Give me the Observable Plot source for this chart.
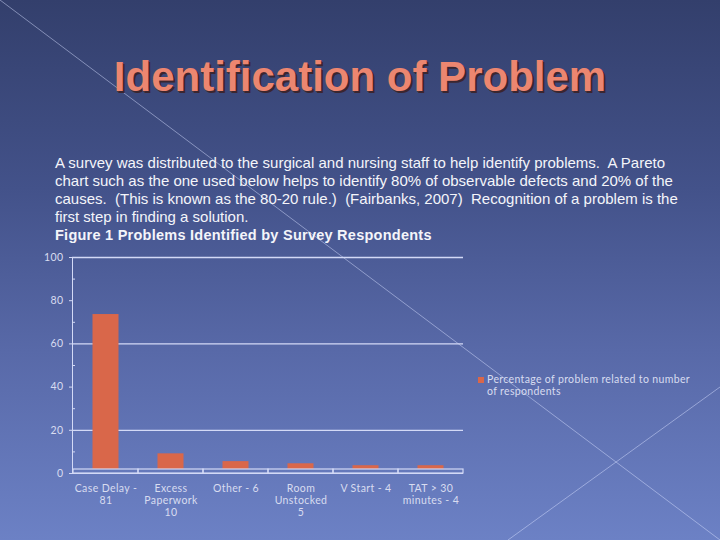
<!DOCTYPE html>
<html>
<head>
<meta charset="utf-8">
<script src="https://cdn.jsdelivr.net/npm/d3@7"></script>
<script src="https://cdn.jsdelivr.net/npm/@observablehq/plot@0.6"></script>
<style>
  html, body { margin: 0; padding: 0; }
  #slide { position: relative; width: 720px; height: 540px; overflow: hidden;
    background: linear-gradient(to bottom, #333f6c 0%, #43528a 35%, #5869a8 65%, #6c81c5 100%); }
  #deco { position: absolute; left: 0; top: 0; }
  #title { position: absolute; left: 0; top: 56px; width: 720px; text-align: center;
    font-family: "Liberation Sans", Arial, sans-serif; font-weight: bold; font-size: 42px; line-height: 42px;
    color: #ec8670; text-shadow: 2px 2px 0 #3a2630, 1px 1px 0 #5a3035; margin: 0; }
  #body { position: absolute; left: 55px; top: 154px; width: 660px;
    font-family: "Liberation Sans", Arial, sans-serif; font-size: 15px; line-height: 18px; color: #f4f5fa;
    white-space: pre; }
  #body b { font-weight: bold; font-size: 14.5px; letter-spacing: 0.25px; }
  #chart { position: absolute; left: 0; top: 240px; }
  #legend { position: absolute; left: 478px; top: 373px; font-family: Lato, "Open Sans", sans-serif;
    font-size: 10.5px; line-height: 12px; color: #d8dcf0; letter-spacing: 0.35px; }
  #legend .sw { position: absolute; left: 0; top: 4px; width: 6px; height: 6px; background: #d9674a; }
  #legend .tx { position: absolute; left: 9px; top: 0; white-space: pre; }
</style>
</head>
<body>
<div id="slide">
  <svg id="deco" width="720" height="540">
    <line x1="0" y1="0" x2="720" y2="540" stroke="rgba(215,222,255,0.55)" stroke-width="0.9"/>
    <line x1="508" y1="540" x2="720" y2="387" stroke="rgba(215,222,255,0.55)" stroke-width="0.9"/>
  </svg>
  <div id="title">Identification of Problem</div>
  <div id="body">A survey was distributed to the surgical and nursing staff to help identify problems.  A Pareto
chart such as the one used below helps to identify 80% of observable defects and 20% of the
causes.  (This is known as the 80-20 rule.)  (Fairbanks, 2007)  Recognition of a problem is the
first step in finding a solution.
<b>Figure 1 Problems Identified by Survey Respondents</b></div>
  <div id="chart"></div>
  <div id="legend"><div class="sw"></div><div class="tx" id="legendText"></div></div>
</div>
<script>
// Data
const categories = ["Case Delay -\n81", "Excess\nPaperwork\n10", "Other - 6", "Room\nUnstocked\n5", "V Start - 4", "TAT > 30\nminutes - 4"];
const percentages = [73.6, 9.1, 5.5, 4.5, 3.6, 3.6];
const yTicks = [0, 20, 40, 60, 80, 100];
const gridValues = [20, 60, 100];
const minorTicks = [10, 30, 50, 70, 90];
const seriesName = "Percentage of problem related to number\nof respondents";

const data = categories.map((c, i) => ({category: c, value: percentages[i]}));
const barColor = "#d9674a";
const lineColor = "#d3d9f6";

document.getElementById("legendText").textContent = seriesName;

const chart = Plot.plot({
  width: 480,
  height: 290,
  marginLeft: 72,
  marginRight: 17,
  marginTop: 17,
  marginBottom: 57,
  style: {background: "transparent", color: "#d8dcf0", fontFamily: "Lato, 'Open Sans', sans-serif", fontSize: "10.5px", overflow: "visible", letterSpacing: "0.4px"},
  x: {domain: categories, padding: 0, label: null},
  y: {domain: [0, 100], label: null},
  marks: [
    Plot.ruleY(gridValues, {stroke: lineColor, strokeWidth: 1.3}),
    Plot.barY(data, {x: "category", y: "value", fill: barColor, insetLeft: 19.5, insetRight: 19.5, insetBottom: 4}),
    Plot.barY(categories, {x: d => d, y1: 0, y2: 0, insetTop: -4, fill: "none", stroke: lineColor, strokeWidth: 1.2}),
    Plot.ruleY([0], {stroke: lineColor, strokeWidth: 1.2}),
    Plot.frame({anchor: "left", stroke: lineColor, strokeWidth: 1}),
    Plot.axisY({ticks: minorTicks, tickSize: -3, tickFormat: () => "", stroke: lineColor}),
    Plot.axisY({ticks: yTicks, tickSize: 3, tickPadding: 6, stroke: lineColor, fontSize: 10.5}),
    Plot.axisX({tickSize: 0, tickPadding: 10, lineHeight: 1.15, fontSize: 10.5})
  ]
});
document.getElementById("chart").appendChild(chart);
</script>
</body>
</html>
